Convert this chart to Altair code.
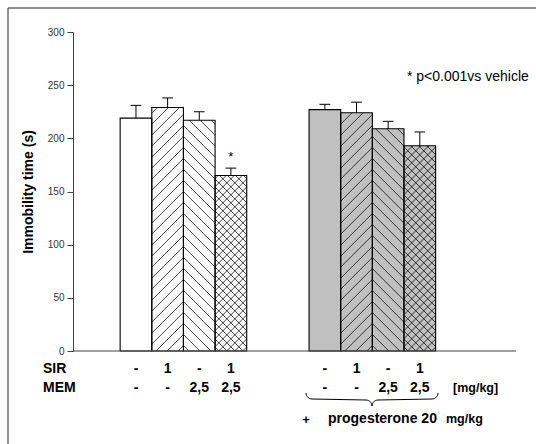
import altair as alt
import pandas as pd
import numpy as np

# ---------------- data ----------------
sir_labels = ["-", "1", "-", "1"]
mem_labels = ["-", "-", "2,5", "2,5"]
hatches = ["", "/", "\\", "x"]
ctrl_mean = [219, 229, 217, 165]
ctrl_sem = [12, 9, 8, 7]
ctrl_sig = [False, False, False, True]
prog_mean = [227, 224, 209, 193]
prog_sem = [5, 10, 7, 13]
prog_sig = [False, False, False, False]
y_ticks = [0, 50, 100, 150, 200, 250, 300]

# ---------------- layout ----------------
W, H = 443, 319
XMAX, YMAX = 14, 300
PXU = W / XMAX
PYU = H / YMAX
FONT = "Liberation Sans"
group_start = {"ctrl": 1.49, "prog": 7.46}
group_fill = {"ctrl": "#ffffff", "prog": "#c0c0c0"}

rows = []
for g, means, sems, sigs in [("ctrl", ctrl_mean, ctrl_sem, ctrl_sig),
                             ("prog", prog_mean, prog_sem, prog_sig)]:
    for i in range(4):
        x0 = group_start[g] + i
        rows.append(dict(group=g, x0=x0, x1=x0 + 1, xc=x0 + 0.5,
                         lo=x0 + 0.5 - 0.17, hi=x0 + 0.5 + 0.17,
                         zero=0, mean=means[i], top=means[i] + sems[i],
                         star="*" if sigs[i] else "", startop=means[i] + sems[i] + 10,
                         sir=sir_labels[i], mem=mem_labels[i],
                         hatch=hatches[i], fill=group_fill[g]))
bars = pd.DataFrame(rows)

# hatch line segments clipped to each bar (pixel space -> data units)
segs = []
for r in rows:
    w = PXU
    h = r["mean"] * PYU
    kinds = []
    if r["hatch"] == "/":
        kinds = [("/", 11.0)]
    elif r["hatch"] == "\\":
        kinds = [("\\", 11.0)]
    elif r["hatch"] == "x":
        kinds = [("/", 8.0), ("\\", 8.0)]
    for kind, s in kinds:
        if kind == "/":
            c = -w + s / 2
            while c < h:
                ua, ub = max(0.0, -c), min(w, h - c)
                if ub > ua:
                    segs.append(dict(xa=r["x0"] + ua / PXU, ya=(ua + c) / PYU,
                                     xb=r["x0"] + ub / PXU, yb=(ub + c) / PYU))
                c += s
        else:
            c = s / 2
            while c < w + h:
                ua, ub = max(0.0, c - h), min(w, c)
                if ub > ua:
                    segs.append(dict(xa=r["x0"] + ua / PXU, ya=(c - ua) / PYU,
                                     xb=r["x0"] + ub / PXU, yb=(c - ub) / PYU))
                c += s
hatch_df = pd.DataFrame(segs)

xs = alt.Scale(domain=[0, XMAX], nice=False, zero=False)
ys = alt.Scale(domain=[0, YMAX], nice=False)

base = alt.Chart(bars)

fill_layer = base.mark_rect(strokeWidth=0).encode(
    x=alt.X("x0:Q", scale=xs, axis=None),
    x2="x1:Q",
    y=alt.Y("zero:Q", scale=ys,
            axis=alt.Axis(title="Immobility time (s)", values=y_ticks)),
    y2="mean:Q",
    fill=alt.Fill("fill:N", scale=None),
)

hatch_layer = alt.Chart(hatch_df).mark_rule(color="#111111", strokeWidth=0.8).encode(
    x=alt.X("xa:Q", scale=xs), x2="xb:Q",
    y=alt.Y("ya:Q", scale=ys), y2="yb:Q",
)

outline_layer = base.mark_rect(fill=None, stroke="#000000", strokeWidth=1.1).encode(
    x=alt.X("x0:Q", scale=xs), x2="x1:Q",
    y=alt.Y("zero:Q", scale=ys), y2="mean:Q",
)

err_v = base.mark_rule(color="#000000", strokeWidth=1).encode(
    x=alt.X("xc:Q", scale=xs), y=alt.Y("mean:Q", scale=ys), y2="top:Q")
err_cap = base.mark_rule(color="#000000", strokeWidth=1).encode(
    x=alt.X("lo:Q", scale=xs), x2="hi:Q", y=alt.Y("top:Q", scale=ys))

star = base.mark_text(font=FONT, fontSize=13, color="#000000", baseline="middle").encode(
    x=alt.X("xc:Q", scale=xs), y=alt.Y("startop:Q", scale=ys), text="star:N")

baseline = alt.Chart(pd.DataFrame({"a": [0], "b": [XMAX], "y": [0]})).mark_rule(
    color="#444444", strokeWidth=1).encode(
    x=alt.X("a:Q", scale=xs), x2="b:Q", y=alt.Y("y:Q", scale=ys))

row_sir = base.mark_text(font=FONT, fontSize=14, fontWeight="bold", baseline="middle").encode(
    x=alt.X("xc:Q", scale=xs), y=alt.value(H + 18), text="sir:N")
row_mem = base.mark_text(font=FONT, fontSize=14, fontWeight="bold", baseline="middle").encode(
    x=alt.X("xc:Q", scale=xs), y=alt.value(H + 37), text="mem:N")

def label(txt, x, y, size, weight="bold", align="left"):
    return alt.Chart(pd.DataFrame({"t": [txt]})).mark_text(
        font=FONT, fontSize=size, fontWeight=weight, align=align, baseline="middle",
        color="#000000").encode(x=alt.value(x), y=alt.value(y), text="t:N")

labels = [
    label("SIR", -30, H + 18, 14),
    label("MEM", -30, H + 37, 14),
    label("[mg/kg]", 380, H + 37, 12.5),
    label("+", 233, H + 69, 13, align="center"),
    label("progesterone 20", 255, H + 68, 14),
    label("mg/kg", 373, H + 68, 12.5),
    label("* p<0.001vs vehicle", 334, 45, 14, weight="normal"),
]

# curly brace under the progesterone group
bl, br = 306 - 73, 438 - 73
bc = (bl + br) / 2
yt, ym = 393 - 32, 400 - 32
r = 6.0
pts = []
t = np.linspace(0, np.pi / 2, 8)
for a in t:
    pts.append((bl + r * (1 - np.cos(a)), yt + r * np.sin(a)))
for a in t:
    pts.append((bc - r + r * np.sin(a), ym + r * (1 - np.cos(a))))
for a in t[::-1]:
    pts.append((bc + r - r * np.sin(a), ym + r * (1 - np.cos(a))))
for a in t[::-1]:
    pts.append((br - r * (1 - np.cos(a)), yt + r * np.sin(a)))
brace_df = pd.DataFrame({
    "o": list(range(len(pts))),
    "bx": [p[0] / PXU for p in pts],
    "by": [(H - p[1]) / PYU for p in pts],
})
brace = alt.Chart(brace_df).mark_line(color="#000000", strokeWidth=1).encode(
    x=alt.X("bx:Q", scale=xs), y=alt.Y("by:Q", scale=ys), order="o:Q")

frame_df = pd.DataFrame({"v": [0]})
frame_left = alt.Chart(frame_df).mark_rule(color="#222222", strokeWidth=1).encode(
    x=alt.value(-65), y=alt.value(-24), y2=alt.value(H + 120))
frame_top = alt.Chart(frame_df).mark_rule(color="#222222", strokeWidth=1).encode(
    x=alt.value(-65), x2=alt.value(W + 40), y=alt.value(-24))

chart = alt.layer(
    fill_layer, hatch_layer, outline_layer, err_v, err_cap, star, baseline,
    row_sir, row_mem, brace, frame_left, frame_top, *labels,
).properties(
    width=W, height=H,
    padding={"left": 73, "top": 32, "right": 20, "bottom": 93},
    autosize=alt.AutoSizeParams(type="none"),
    background="#ffffff",
).configure_view(stroke=None).configure_axis(
    grid=False, labelFont=FONT, titleFont=FONT, labelFontSize=10, labelColor="#333333",
    domainColor="#444444", tickColor="#444444", tickSize=6, labelPadding=3,
    titleFontSize=14, titleFontWeight="bold", titleColor="#000000", titlePadding=12,
)

chart.save("out.html", embed_options={"renderer": "svg", "actions": False})
